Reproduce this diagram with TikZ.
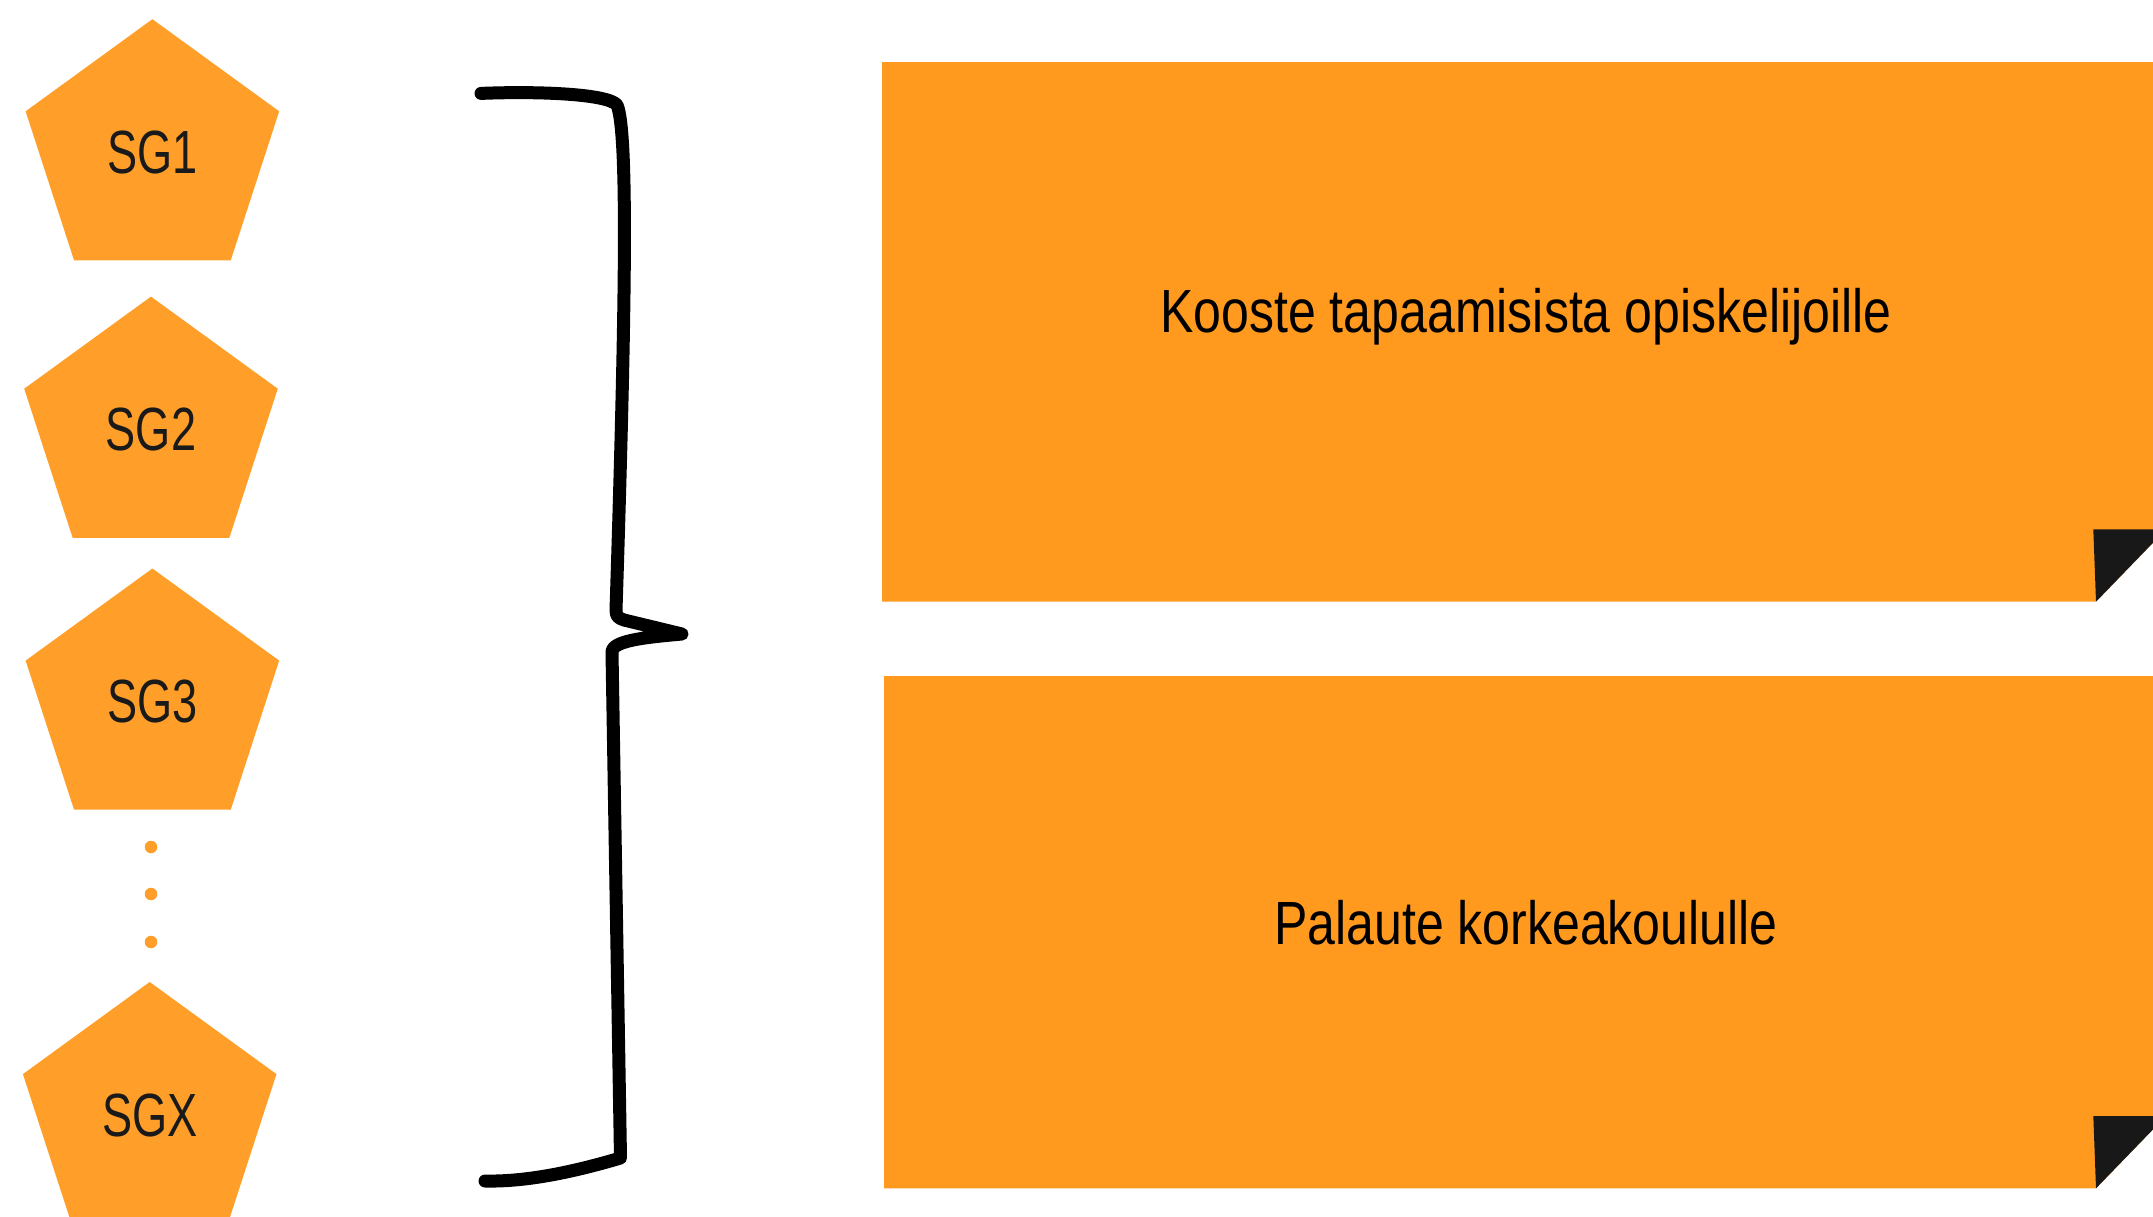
\documentclass[tikz,border=0pt]{standalone}
\usepackage{fontspec}
\usetikzlibrary{shapes.geometric}
\newfontfamily\rectfont[FakeStretch=0.82]{Liberation Sans}
\newfontfamily\pentfont[FakeStretch=0.74]{Liberation Sans}
\definecolor{pentorange}{HTML}{FF9F29}
\definecolor{rectorange}{HTML}{FF9A1F}
\definecolor{folddark}{HTML}{181818}
\definecolor{textdark}{HTML}{1A1A1A}
\begin{document}
\begin{tikzpicture}[x=1pt,y=-1pt,
  pent/.style={regular polygon, regular polygon sides=5, minimum size=266.6pt,
    inner sep=0pt, outer sep=0pt, fill=pentorange, text=textdark,
    font=\pentfont\fontsize{61}{61}\selectfont},
  dotmark/.style={circle, fill=pentorange, minimum size=12.5pt, inner sep=0pt},
  bigtext/.style={font=\rectfont\fontsize{61}{61}\selectfont, text=black, inner sep=0pt},
  bracestroke/.style={line width=13pt, line cap=round, line join=round, draw=black}]
\useasboundingbox (0,0) rectangle (2153,1216);
\clip (0,0) rectangle (2153,1216);

% note boxes with folded corner
\fill[rectorange] (882,62) -- (2180,62) -- (2180,514.8) -- (2096,601.7) -- (882,601.7) -- cycle;
\fill[folddark] (2093.3,529.3) -- (2096,601.7) -- (2166,529.3) -- cycle;
\fill[rectorange] (884,676) -- (2180,676) -- (2180,1101.4) -- (2096,1188.3) -- (884,1188.3) -- cycle;
\fill[folddark] (2093.3,1116) -- (2096,1188.3) -- (2166,1116) -- cycle;

\node[bigtext, anchor=base] (t1) at (1526,332) {Kooste tapaamisista opiskelijoille};
\node[bigtext, anchor=base] (t2) at (1526,944.7) {Palaute korkeakoululle};

% pentagons
\node[pent] (sg1) at (152.4,152.5) {SG1};
\node[pent] (sg2) at (151,429.9) {SG2};
\node[pent] (sg3) at (152.4,701.8) {SG3};
\node[pent] (sgx) at (149.7,1115.3) {\raisebox{-4pt}{SGX}};

\node[dotmark] (d1) at (151,847) {};
\node[dotmark] (d2) at (151,894) {};
\node[dotmark] (d3) at (151,942) {};

% brace
\draw[bracestroke] (481,93.4) .. controls (540,91) and (608,94) .. (617,105)
  .. controls (628,130) and (626,300) .. (616,610)
  .. controls (616,616) and (618,618) .. (624,620)
  -- (682,634)
  .. controls (650,637) and (612,640) .. (612,652)
  -- (620.5,1158)
  .. controls (580,1170) and (530,1182) .. (485,1181);
\end{tikzpicture}
\end{document}
